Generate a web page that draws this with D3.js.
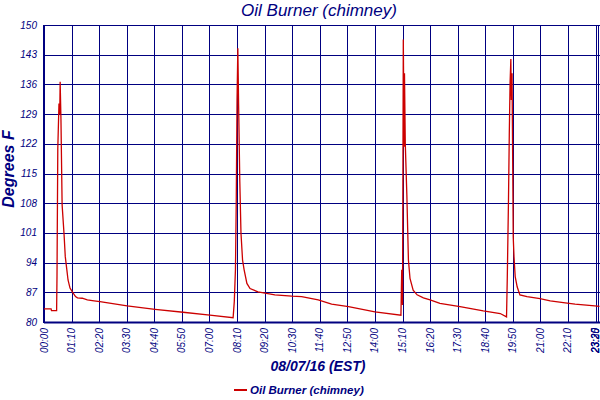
<!DOCTYPE html>
<html>
<head>
<meta charset="utf-8">
<script src="https://cdn.jsdelivr.net/npm/d3@7"></script>
<style>
  body { margin: 0; background: #fff; }
  text { font-family: "Liberation Sans", Arial, sans-serif; font-style: italic; fill: #000080; }
</style>
</head>
<body>
<div id="chart"></div>
<script>
// readings for 08/07/16, chimney temperature in degrees F
let times = [
  "00:00", "00:18", "00:19", "00:32", "00:33", "00:35", "00:38", "00:40", "00:41", "00:43",
  "00:46", "00:51", "00:54", "00:58", "01:01", "01:06", "01:12", "01:20", "01:25", "01:37",
  "01:50", "02:07", "02:22", "03:31", "04:42", "05:53", "07:01", "08:00",
  "08:03", "08:06", "08:08", "08:10", "08:12", "08:14", "08:17", "08:20", "08:24", "08:28",
  "08:35", "08:43", "09:03", "09:21", "09:46", "10:29", "10:54", "11:36", "12:10", "12:53",
  "14:00", "15:06",
  "15:08", "15:10", "15:12", "15:14", "15:15", "15:17", "15:21", "15:25", "15:29", "15:37",
  "15:47", "16:03", "16:20", "16:45", "17:36", "18:35", "19:18", "19:34",
  "19:36", "19:39", "19:41", "19:43", "19:45", "19:46", "19:48", "19:50", "19:51", "19:53",
  "19:56", "20:01", "20:08", "20:26", "20:59", "21:25", "22:03", "22:28", "23:18", "23:30"
];
let temps = [
  83.1, 83.1, 82.7, 82.7, 90.8, 120.8, 131.5, 129.0, 136.6, 128.0,
  107.6, 100.5, 95.4, 92.3, 89.9, 88.0, 87.1, 86.0, 85.7, 85.6,
  85.2, 85.0, 84.8, 83.8, 83.0, 82.3, 81.6, 81.0,
  84.8, 92.5, 108.4, 132.3, 144.5, 131.1, 113.1, 100.9, 94.6, 92.3,
  89.1, 87.9, 87.1, 86.8, 86.4, 86.1, 86.0, 85.2, 84.2, 83.6,
  82.4, 81.6,
  92.3, 84.0, 146.6, 121.3, 138.6, 122.1, 110.0, 94.6, 90.3, 87.5,
  86.4, 85.7, 85.2, 84.4, 83.6, 82.6, 82.0, 81.2,
  90.7, 108.8, 124.1, 136.2, 142.0, 132.3, 138.6, 113.5, 100.1, 95.4,
  90.7, 88.3, 86.4, 86.0, 85.5, 85.0, 84.5, 84.2, 83.8, 83.7
];
let xTicks = [
  "00:00", "01:10", "02:20", "03:30", "04:40", "05:50", "07:00", "08:10", "09:20", "10:30",
  "11:40", "12:50", "14:00", "15:10", "16:20", "17:30", "18:40", "19:50", "21:00", "22:10",
  "23:20", "23:25", "23:30"
];
let yTicks = [80, 87, 94, 101, 108, 115, 122, 129, 136, 143, 150];

let toMin = s => { let p = s.split(":"); return +p[0] * 60 + +p[1]; };
let data = times.map((t, i) => ({ t: toMin(t), v: temps[i] }));

let width = 600, height = 400;
let plotLeft = 44, plotRight = 599.5, plotTop = 25, plotBottom = 322;

let svg = d3.select("#chart").append("svg").attr("width", width).attr("height", height);

let x = d3.scaleLinear().domain([0, toMin("23:30")]).range([plotLeft, plotRight]);
let y = d3.scaleLinear().domain([80, 150]).range([plotBottom, plotTop]);

// grid
svg.append("g").selectAll("line").data(yTicks).enter().append("line")
    .attr("x1", plotLeft).attr("x2", width)
    .attr("y1", d => Math.round(y(d)) + 0.5).attr("y2", d => Math.round(y(d)) + 0.5)
    .attr("stroke", "#000080").attr("stroke-width", 1);

svg.append("g").selectAll("line").data(xTicks).enter().append("line")
    .attr("x1", d => Math.round(x(toMin(d))) + 0.5).attr("x2", d => Math.round(x(toMin(d))) + 0.5)
    .attr("y1", plotTop).attr("y2", plotBottom)
    .attr("stroke", "#000080").attr("stroke-width", 1);

// frame
svg.append("line").attr("x1", plotLeft).attr("x2", plotLeft).attr("y1", plotTop).attr("y2", plotBottom + 1)
    .attr("stroke", "#000080").attr("stroke-width", 2);
svg.append("line").attr("x1", plotLeft).attr("x2", width).attr("y1", plotBottom + 0.5).attr("y2", plotBottom + 0.5)
    .attr("stroke", "#000080").attr("stroke-width", 2);

// series
let line = d3.line().x(d => x(d.t)).y(d => y(d.v));
svg.append("path").datum(data)
    .attr("d", line)
    .attr("fill", "none")
    .attr("stroke", "#cc0000")
    .attr("stroke-width", 1.3);

// y tick labels
svg.append("g").selectAll("text").data(yTicks).enter().append("text")
    .attr("x", plotLeft - 7).attr("y", d => y(d))
    .attr("dy", "0.35em")
    .attr("text-anchor", "end")
    .style("font-size", "10px")
    .text(d => d);

// x tick labels, rotated; the crowded end ones kept inside the picture
svg.append("g").selectAll("text").data(xTicks).enter().append("text")
    .attr("transform", d => `translate(${Math.min(x(toMin(d)), 595.5)},${plotBottom + 6}) rotate(-90)`)
    .attr("dy", "0.35em")
    .attr("text-anchor", "end")
    .style("font-size", "10px")
    .text(d => d);

// titles
svg.append("text").attr("x", 319).attr("y", 16)
    .attr("text-anchor", "middle")
    .style("font-size", "17px")
    .text("Oil Burner (chimney)");

svg.append("text").attr("x", 318).attr("y", 371)
    .attr("text-anchor", "middle")
    .style("font-size", "14px")
    .style("font-weight", "bold")
    .text("08/07/16 (EST)");

svg.append("text")
    .attr("transform", "translate(14,169) rotate(-90)")
    .attr("text-anchor", "middle")
    .style("font-size", "16px")
    .style("font-weight", "bold")
    .text("Degrees F");

// legend
svg.append("line").attr("x1", 234).attr("x2", 247).attr("y1", 390).attr("y2", 390)
    .attr("stroke", "#cc0000").attr("stroke-width", 2);
svg.append("text").attr("x", 250).attr("y", 394)
    .style("font-size", "11.5px")
    .style("font-weight", "bold")
    .text("Oil Burner (chimney)");
</script>
</body>
</html>
